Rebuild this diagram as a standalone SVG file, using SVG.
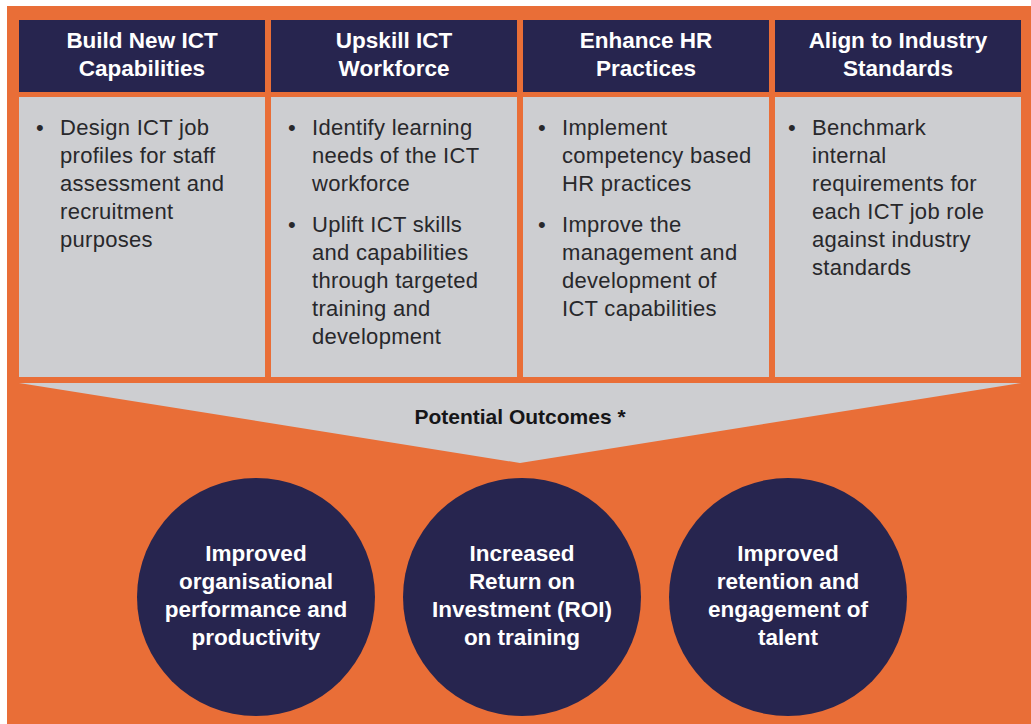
<svg xmlns="http://www.w3.org/2000/svg" width="1031" height="724" viewBox="0 0 1031 724">
<style>
.hdr{fill:#27254f}
.body{fill:#cdced1}
.ht{font-family:"Liberation Sans",Arial,sans-serif;font-weight:bold;font-size:22.5px;fill:#ffffff;text-anchor:middle}
.bt{font-family:"Liberation Sans",Arial,sans-serif;font-size:22px;letter-spacing:0.3px;fill:#28282b}
.ct{font-family:"Liberation Sans",Arial,sans-serif;font-weight:bold;font-size:22.5px;fill:#ffffff;text-anchor:middle}
.pt{font-family:"Liberation Sans",Arial,sans-serif;font-weight:bold;font-size:21px;fill:#161618;text-anchor:middle}
.circ{fill:#27254f}
</style>
<rect x="7" y="6" width="1024" height="718" fill="#e96e37"/>
<g id="connectors"></g>
<g id="col1">
<rect class="hdr" x="19" y="20" width="246" height="72"/>
<text class="ht" x="142" y="48">Build New ICT</text>
<text class="ht" x="142" y="76">Capabilities</text>
<rect class="body" x="19" y="97" width="246" height="280"/>
<text class="bt" x="36" y="135">•</text>
<text class="bt" x="60" y="135">Design ICT job</text>
<text class="bt" x="60" y="163">profiles for staff</text>
<text class="bt" x="60" y="191">assessment and</text>
<text class="bt" x="60" y="219">recruitment</text>
<text class="bt" x="60" y="247">purposes</text>
</g>
<g id="col2">
<rect class="hdr" x="271" y="20" width="246" height="72"/>
<text class="ht" x="394" y="48">Upskill ICT</text>
<text class="ht" x="394" y="76">Workforce</text>
<rect class="body" x="271" y="97" width="246" height="280"/>
<text class="bt" x="288" y="135">•</text>
<text class="bt" x="312" y="135">Identify learning</text>
<text class="bt" x="312" y="163">needs of the ICT</text>
<text class="bt" x="312" y="191">workforce</text>
<text class="bt" x="288" y="232">•</text>
<text class="bt" x="312" y="232">Uplift ICT skills</text>
<text class="bt" x="312" y="260">and capabilities</text>
<text class="bt" x="312" y="288">through targeted</text>
<text class="bt" x="312" y="316">training and</text>
<text class="bt" x="312" y="344">development</text>
</g>
<g id="col3">
<rect class="hdr" x="523" y="20" width="246" height="72"/>
<text class="ht" x="646" y="48">Enhance HR</text>
<text class="ht" x="646" y="76">Practices</text>
<rect class="body" x="523" y="97" width="246" height="280"/>
<text class="bt" x="538" y="135">•</text>
<text class="bt" x="562" y="135">Implement</text>
<text class="bt" x="562" y="163">competency based</text>
<text class="bt" x="562" y="191">HR practices</text>
<text class="bt" x="538" y="232">•</text>
<text class="bt" x="562" y="232">Improve the</text>
<text class="bt" x="562" y="260">management and</text>
<text class="bt" x="562" y="288">development of</text>
<text class="bt" x="562" y="316">ICT capabilities</text>
</g>
<g id="col4">
<rect class="hdr" x="775" y="20" width="246" height="72"/>
<text class="ht" x="898" y="48">Align to Industry</text>
<text class="ht" x="898" y="76">Standards</text>
<rect class="body" x="775" y="97" width="246" height="280"/>
<text class="bt" x="788" y="135">•</text>
<text class="bt" x="812" y="135">Benchmark</text>
<text class="bt" x="812" y="163">internal</text>
<text class="bt" x="812" y="191">requirements for</text>
<text class="bt" x="812" y="219">each ICT job role</text>
<text class="bt" x="812" y="247">against industry</text>
<text class="bt" x="812" y="275">standards</text>
</g>
<g id="outcomes">
<polygon points="19,383 1021,383 520,463" fill="#cdced1"/>
<text class="pt" x="520" y="424">Potential Outcomes *</text>
</g>
<g id="outcome1">
<circle class="circ" cx="256" cy="597" r="119"/>
<text class="ct" x="256" y="561">Improved</text>
<text class="ct" x="256" y="589">organisational</text>
<text class="ct" x="256" y="617">performance and</text>
<text class="ct" x="256" y="645">productivity</text>
</g>
<g id="outcome2">
<circle class="circ" cx="522" cy="597" r="119"/>
<text class="ct" x="522" y="561">Increased</text>
<text class="ct" x="522" y="589">Return on</text>
<text class="ct" x="522" y="617">Investment (ROI)</text>
<text class="ct" x="522" y="645">on training</text>
</g>
<g id="outcome3">
<circle class="circ" cx="788" cy="597" r="119"/>
<text class="ct" x="788" y="561">Improved</text>
<text class="ct" x="788" y="589">retention and</text>
<text class="ct" x="788" y="617">engagement of</text>
<text class="ct" x="788" y="645">talent</text>
</g>
</svg>
